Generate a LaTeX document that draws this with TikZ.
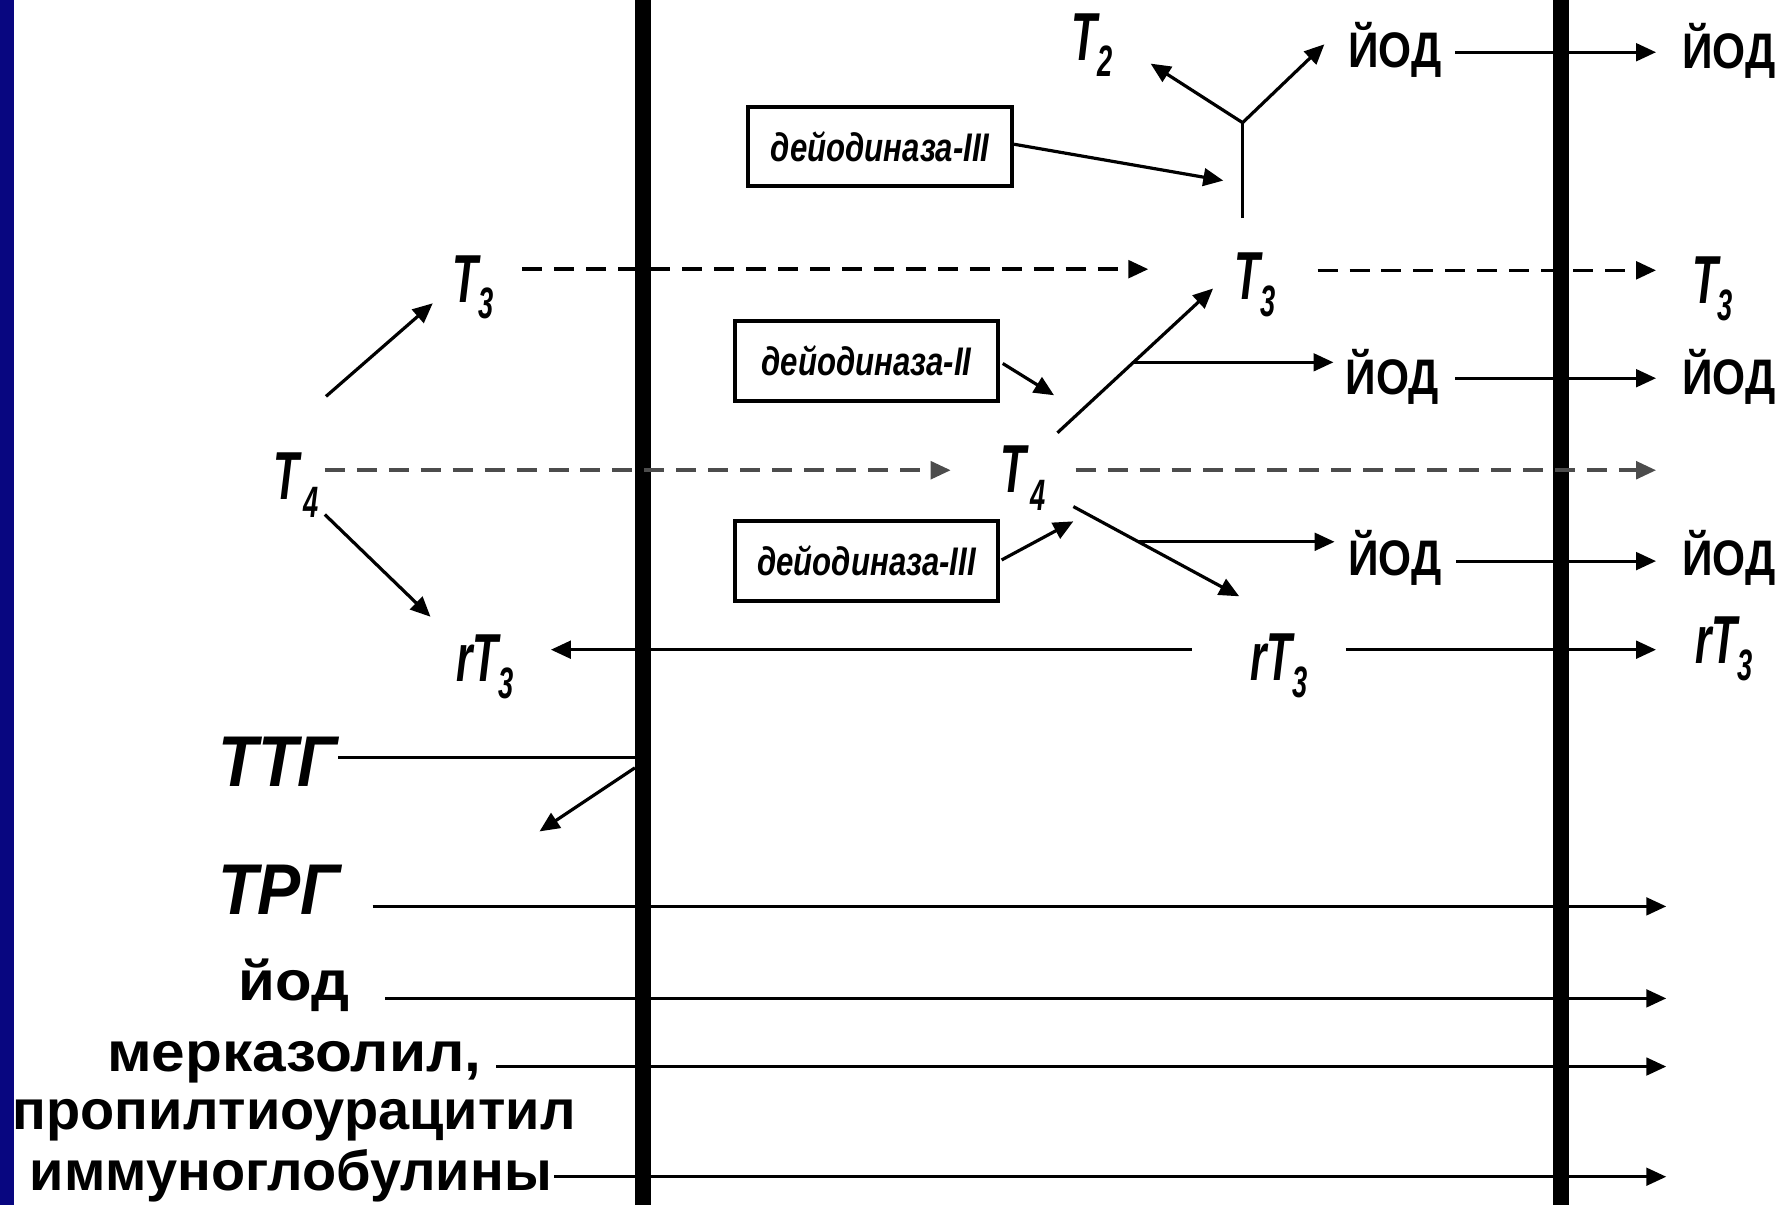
\documentclass[tikz,border=0pt]{standalone}
\usepackage{fontspec}
\usetikzlibrary{arrows.meta}
\newfontfamily\tfam[FakeStretch=0.62]{Liberation Sans}
\newfontfamily\gfam[FakeStretch=0.9]{Liberation Sans}
\newfontfamily\jfam[FakeStretch=0.85]{Liberation Sans}
\newfontfamily\bfam[FakeStretch=0.78]{Liberation Sans}
\newfontfamily\lfam{Liberation Sans}
\definecolor{navy}{RGB}{8,6,128}
\newcommand\Tl[2]{{\fontsize{17}{17}\selectfont #1}\raisebox{-4.2pt}{\fontsize{11}{11}\selectfont #2}}
\newcommand\Tk[2]{{\fontsize{17}{17}\selectfont #1}\kern1.2pt\raisebox{-4.4pt}{\fontsize{11}{11}\selectfont #2}}
\begin{document}
\begin{tikzpicture}[x=0.01cm,y=-0.01cm,
  arr/.style={line width=0.8pt,-{Triangle[length=5pt,width=4.4pt]}},
  ln/.style={line width=0.8pt},
  dsh/.style={line width=0.9pt,dash pattern=on 5pt off 3pt,-{Triangle[length=5pt,width=4.4pt]}},
  memb/.style={line width=4pt},
  tlab/.style={inner sep=0pt,anchor=base west,font={\tfam\bfseries\itshape}},
  iod/.style={inner sep=0pt,font={\jfam\bfseries\fontsize{12.5}{12.5}\selectfont}},
  enz/.style={draw,line width=1pt,minimum width=2.32cm,minimum height=0.70cm,inner sep=0pt,font={\bfam\bfseries\itshape\fontsize{10}{10}\selectfont}},
  big/.style={inner sep=0pt,font={\gfam\bfseries\itshape\fontsize{18}{18}\selectfont}},
  lab/.style={inner sep=0pt,font={\lfam\bfseries\fontsize{14}{14}\selectfont}}]
\useasboundingbox (0,0) rectangle (1568,1061);
\fill[navy] (0,0) rectangle (12.6,1061);
% membranes
\draw[memb] (566,0) -- (566,1061);
\draw[memb] (1374,0) -- (1374,1061);

% text nodes
\node[tlab] (t2) at (943,53) {\Tl{T}{2}};
\node[tlab] (t3l) at (398,266) {\Tl{T}{3}};
\node[tlab] (t3c) at (1086,264) {\Tl{T}{3}};
\node[tlab] (t3r) at (1489,267) {\Tl{T}{3}};
\node[tlab] (t4l) at (240,440) {\Tk{T}{4}};
\node[tlab] (t4c) at (880,434) {\Tk{T}{4}};
\node[tlab] (rt3l) at (401,600) {\Tl{rT}{3}};
\node[tlab] (rt3c) at (1100,599) {\Tl{rT}{3}};
\node[tlab] (rt3r) at (1492,584) {\Tl{rT}{3}};

\node[iod] (i1) at (1228,44) {ЙОД};
\node[iod] (i1r) at (1522,45) {ЙОД};
\node[iod] (i2) at (1226,332) {ЙОД};
\node[iod] (i2r) at (1522,332) {ЙОД};
\node[iod] (i3) at (1228,491) {ЙОД};
\node[iod] (i3r) at (1522,491) {ЙОД};

\node[enz] (e1) at (775,129) {дейодиназа-III};
\node[enz] (e2) at (763,318) {дейодиназа-II};
\node[enz] (e3) at (763,494) {дейодиназа-III};

\node[big] (ttg) at (245,671) {ТТГ};
\node[big] (trg) at (246,783) {ТРГ};
\node[lab] (iodl) at (259,867) {\scalebox{1.07}[1]{йод}};
\node[lab] (merc) at (259,935) {\scalebox{1.08}[1]{мерказолил,}};
\node[lab] (prop) at (259,986) {пропилтиоурацитил};
\node[lab] (imm) at (256,1035) {иммуноглобулины};

% coordinates
\coordinate (J) at (1094,108);
\coordinate (Jb) at (1094,192);

% top
\draw[ln] (Jb) -- (J);
\draw[arr] (J) -- (1013,56);
\draw[arr] (J) -- (1166,39);
\draw[arr] (e1.east) ++(0,-2) -- (1077,159);
\draw[arr] (1281,46) -- (1458,46);

% T3 row
\draw[dsh] (460,237) -- (1011,237);
\draw[dsh] (1160,238) -- (1458,238);
\draw[arr] (287,349) -- (381,267);

% deiodinase II
\draw[arr] (e2.east) ++(2,2) -- (928,348);
\draw[arr] (931,381) -- (1068,254);
\draw[arr] (998,319) -- (1174,319);
\draw[arr] (1281,333) -- (1458,333);

% T4 row
\draw[dsh,black!70] (286,414) -- (837,414);
\draw[dsh,black!70] (947,414) -- (1458,414);
\draw[arr] (286,453) -- (379,543);

% deiodinase III lower
\draw[arr] (e3.east) ++(1,-1) -- (945,459);
\draw[arr] (945,446) -- (1091,525);
\draw[arr] (1003,477) -- (1175,477);
\draw[arr] (1282,494) -- (1458,494);

% rT3 row
\draw[arr] (1049,572) -- (485,572);
\draw[arr] (1185,572) -- (1458,572);

% TTG
\draw[ln] (298,667) -- (562,667);
\draw[arr] (559,676) -- (475,732);

% bottom
\draw[arr] (328,798) -- (1467,798);
\draw[arr] (339,879) -- (1467,879);
\draw[arr] (437,939) -- (1467,939);
\draw[arr] (488,1036) -- (1467,1036);
\end{tikzpicture}
\end{document}
